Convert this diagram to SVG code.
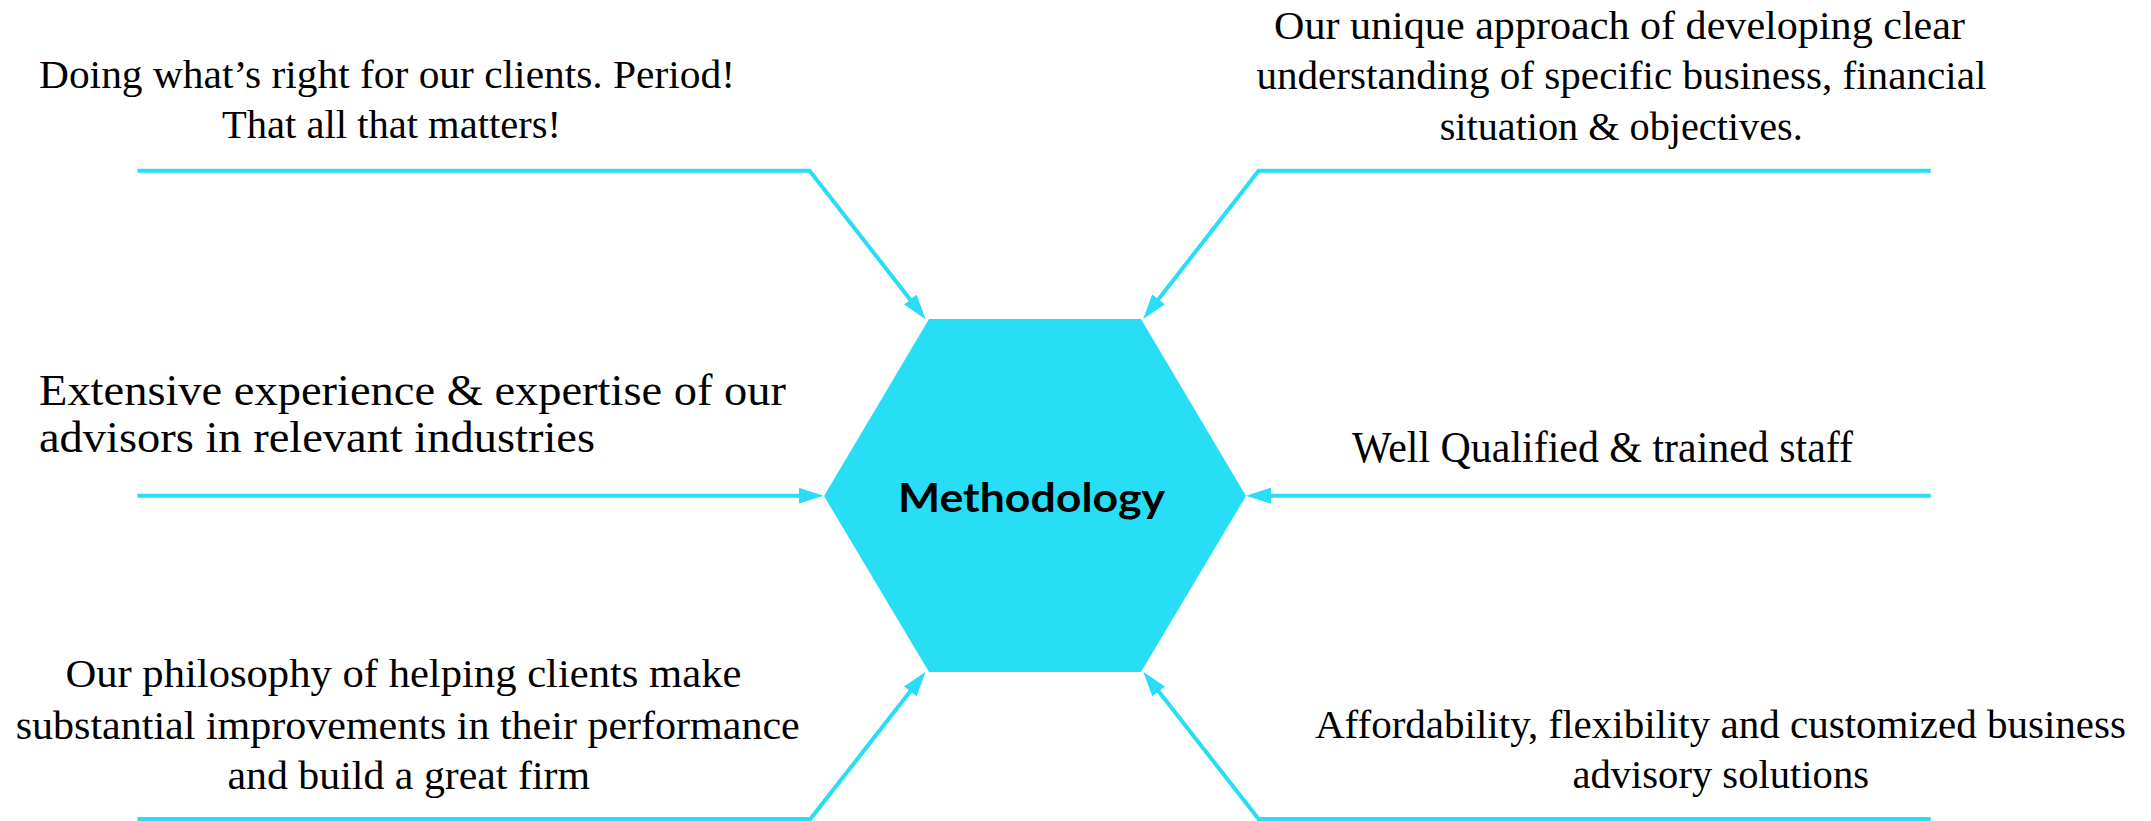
<svg xmlns="http://www.w3.org/2000/svg" width="2151" height="821" viewBox="0 0 2151 821">
<style>
.lbl{font-family:"Liberation Serif","Times New Roman",serif;font-size:40px;fill:#000}
.big{font-size:44px}
.conn{fill:none;stroke:#28DDF5;stroke-width:4;stroke-linejoin:miter}
.hex{fill:#28DEF5}
.title{font-family:"Lato","Open Sans","Liberation Sans",sans-serif;font-weight:bold;font-size:41px;fill:#000}
</style>
<defs>
<marker id="ah" markerUnits="userSpaceOnUse" markerWidth="25" markerHeight="16" refX="15" refY="8" orient="auto">
<path d="M0,0 L25,8 L0,16 z" fill="#28DDF5"/>
</marker>
</defs>
<g id="connectors">
<path class="conn" marker-end="url(#ah)" d="M137.5,170.7 H809.6 L919.5,311.4"/>
<path class="conn" marker-end="url(#ah)" d="M1930.7,170.7 H1258.6 L1149.3,311.1"/>
<path class="conn" marker-end="url(#ah)" d="M137.5,495.7 H813.6"/>
<path class="conn" marker-end="url(#ah)" d="M1930.7,495.7 H1256"/>
<path class="conn" marker-end="url(#ah)" d="M137.5,819 H810.4 L919.5,679.6"/>
<path class="conn" marker-end="url(#ah)" d="M1930.7,819 H1258.6 L1149.4,679.6"/>
</g>
<g id="hub">
<polygon class="hex" points="929,319 1141,319 1246,496 1141,672 929,672 824,496"/>
<text class="title" x="898" y="511.7" textLength="267" lengthAdjust="spacingAndGlyphs">Methodology</text>
</g>
<g id="node-top-left">
<text class="lbl" x="39" y="88" textLength="696" lengthAdjust="spacingAndGlyphs">Doing what’s right for our clients. Period!</text>
<text class="lbl" x="222" y="138" textLength="339" lengthAdjust="spacingAndGlyphs">That all that matters!</text>
</g>
<g id="node-top-right">
<text class="lbl" x="1274" y="39" textLength="691" lengthAdjust="spacingAndGlyphs">Our unique approach of developing clear</text>
<text class="lbl" x="1256.4" y="89.3" textLength="730" lengthAdjust="spacingAndGlyphs">understanding of specific business, financial</text>
<text class="lbl" x="1439.7" y="140" textLength="363" lengthAdjust="spacingAndGlyphs">situation &amp; objectives.</text>
</g>
<g id="node-mid-left">
<text class="lbl big" x="39" y="405" textLength="747" lengthAdjust="spacingAndGlyphs">Extensive experience &amp; expertise of our</text>
<text class="lbl big" x="39" y="452.3" textLength="556" lengthAdjust="spacingAndGlyphs">advisors in relevant industries</text>
</g>
<g id="node-mid-right">
<text class="lbl big" x="1352" y="462.3" textLength="501" lengthAdjust="spacingAndGlyphs">Well Qualified &amp; trained staff</text>
</g>
<g id="node-bottom-left">
<text class="lbl" x="65.4" y="686.7" textLength="676" lengthAdjust="spacingAndGlyphs">Our philosophy of helping clients make</text>
<text class="lbl" x="15.7" y="739.3" textLength="784" lengthAdjust="spacingAndGlyphs">substantial improvements in their performance</text>
<text class="lbl" x="227.5" y="789.3" textLength="362.5" lengthAdjust="spacingAndGlyphs">and build a great firm</text>
</g>
<g id="node-bottom-right">
<text class="lbl" x="1315" y="738.3" textLength="811" lengthAdjust="spacingAndGlyphs">Affordability, flexibility and customized business</text>
<text class="lbl" x="1572.4" y="788.3" textLength="296.6" lengthAdjust="spacingAndGlyphs">advisory solutions</text>
</g>
</svg>
